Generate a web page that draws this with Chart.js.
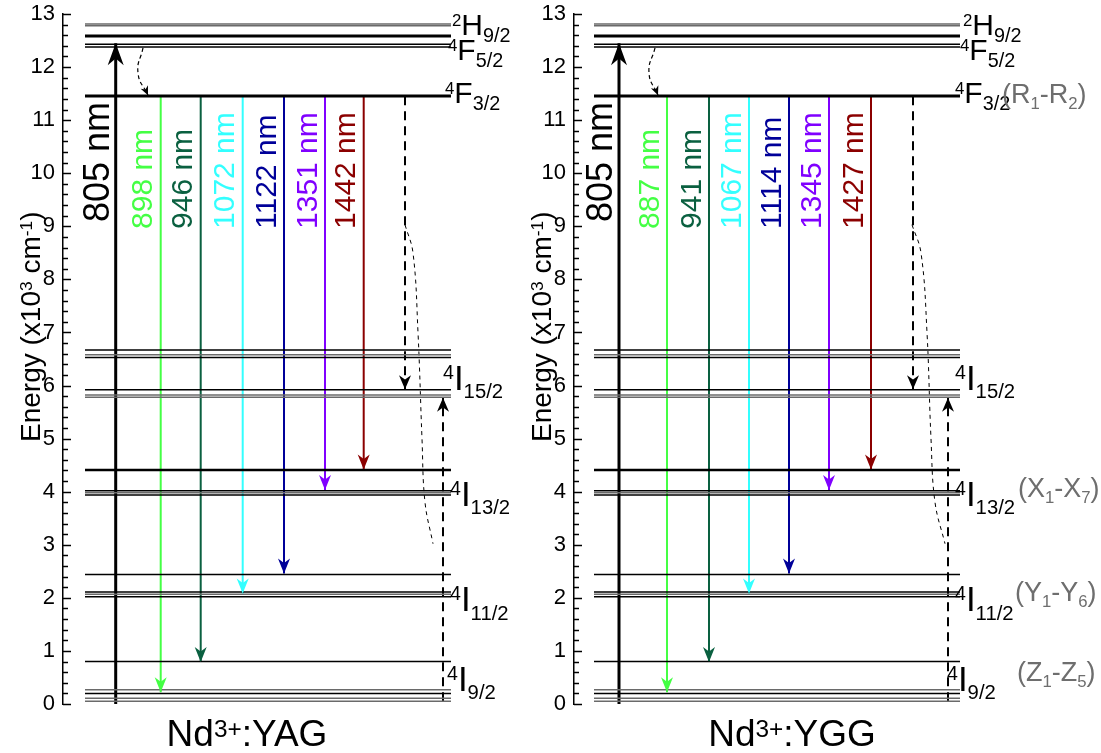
<!DOCTYPE html>
<html>
<head>
<meta charset="utf-8">
<script src="https://cdn.jsdelivr.net/npm/chart.js@4"></script>
<style>
  body { margin: 0; background: #fff; width: 1101px; height: 753px; position: relative; overflow: hidden; }
  canvas { position: absolute; top: 0; }
  #yag { left: 0; }
  #ygg { left: 511px; }
</style>
</head>
<body>
<canvas id="yag" width="560" height="753"></canvas>
<canvas id="ygg" width="590" height="753"></canvas>
<script>
// energy axis (x10^3 cm^-1)
const yMin = 0
const yMax = 13

// Stark sub-levels of Nd3+ drawn as horizontal lines
const levelEnergies = [12.81, 12.78, 12.60, 12.57, 12.43, 12.38, 11.47, 11.44,
  6.67, 6.58, 6.53, 5.92, 5.82, 5.78, 4.41, 4.02, 3.98, 3.94,
  2.44, 2.11, 2.07, 2.02, 0.80, 0.27, 0.20, 0.11, 0.05]
const levelTone = ['g', 'g', 'k', 'k', 'k', 'k', 'k', 'k',
  'k', 'g', 'k', 'k', 'g', 'g', 'K', 'k', 'g', 'k',
  'k', 'k', 'g', 'k', 'k', 'g', 'k', 'g', 'g']

// multiplet names and the energy of their text baseline
const levelSup = ['2', '4', '4', '4', '4', '4', '4']
const levelMain = ['H', 'F', 'F', 'I', 'I', 'I', 'I']
const levelSub = ['9/2', '5/2', '3/2', '15/2', '13/2', '11/2', '9/2']
const levelLabelE = [12.60, 12.13, 11.32, 5.92, 3.73, 1.75, 0.25]

// pump and emission transitions
const pumpFrom = 0.0
const pumpTo = 12.45
const pumpLabel = '805 nm'
const emissionFrom = 11.45
const emissionTo = [0.22, 0.79, 2.08, 2.46, 4.03, 4.42]
const yagWavelengths = ['898 nm', '946 nm', '1072 nm', '1122 nm', '1351 nm', '1442 nm']
const yggWavelengths = ['887 nm', '941 nm', '1067 nm', '1114 nm', '1345 nm', '1427 nm']
const emissionColors = ['#44ff44', '#0a6040', '#33ffff', '#000099', '#8000ff', '#8b0000']

// non radiative steps
const relaxFrom = 11.45
const relaxTo = 5.93
const upFrom = 0.05
const upTo = 5.77
const topCurveE = [12.36, 11.89, 11.47]
const longCurveE = [9.03, 8.5, 7.0, 5.0, 3.8, 3.02]

// grey Stark labels on the YGG panel
const yggNotes = [
  [['(R', 'n'], ['1', 'sub'], ['-R', 'n'], ['2', 'sub'], [')', 'n']],
  [['(X', 'n'], ['1', 'sub'], ['-X', 'n'], ['7', 'sub'], [')', 'n']],
  [['(Y', 'n'], ['1', 'sub'], ['-Y', 'n'], ['6', 'sub'], [')', 'n']],
  [['(Z', 'n'], ['1', 'sub'], ['-Z', 'n'], ['5', 'sub'], [')', 'n']]
]
const yggNotesE = [11.32, 3.90, 1.94, 0.43]

// horizontal layout, in px from the energy axis
const yagLayout = {
  name: 'YAG', lines: yagWavelengths, lineFrom: 22, lineTo: 388,
  pumpX: 52.7, emX: [97.7, 137.7, 179.7, 221, 262, 300.7], relaxX: 342, upX: 380,
  topCurveX: [80, 75, 85], longCurveX: [342, 350, 355, 359, 362, 370],
  labelX: [389, 385, 382, 380, 387, 387, 384], titleX: 184, notesX: []
}
const yggLayout = {
  name: 'YGG', lines: yggWavelengths, lineFrom: 20, lineTo: 386,
  pumpX: 45, emX: [93, 135, 175, 215, 255, 297], relaxX: 339, upX: 374,
  topCurveX: [81, 75, 84], longCurveX: [338, 347, 353, 357, 361, 371],
  labelX: [389, 386, 381, 381, 381, 381, 373], titleX: 218, notesX: [428, 444, 441, 443]
}

const FONT = '"Liberation Sans", Arial, sans-serif'

function richText(ctx, x, y, parts, size, color, rotate, opts) {
  const o = Object.assign({ supScale: 0.6, subScale: 0.6, subDrop: 0.22 }, opts || {})
  ctx.save()
  ctx.translate(x, y)
  if (rotate) ctx.rotate(-Math.PI / 2)
  ctx.fillStyle = color
  ctx.textAlign = 'left'
  ctx.textBaseline = 'alphabetic'
  let cx = 0
  for (const [t, kind] of parts) {
    let s = size
    let dy = 0
    if (kind === 'sup') {
      s = size * o.supScale
      dy = -0.716 * (size - s)
    } else if (kind === 'sub') {
      s = size * o.subScale
      dy = size * o.subDrop
    }
    ctx.font = s + 'px ' + FONT
    ctx.fillText(t, cx, dy)
    cx += ctx.measureText(t).width
  }
  ctx.restore()
  return cx
}

function richWidth(ctx, parts, size, supScale) {
  ctx.save()
  let w = 0
  for (const [t, kind] of parts) {
    const s = kind === 'n' ? size : size * supScale
    ctx.font = s + 'px ' + FONT
    w += ctx.measureText(t).width
  }
  ctx.restore()
  return w
}

function arrowHead(ctx, x, y, dx, dy, len, half, color) {
  const d = Math.hypot(dx, dy)
  const ux = dx / d
  const uy = dy / d
  ctx.save()
  ctx.fillStyle = color
  ctx.beginPath()
  ctx.moveTo(x, y)
  ctx.lineTo(x - ux * len - uy * half, y - uy * len + ux * half)
  ctx.lineTo(x - ux * len * 0.7, y - uy * len * 0.7)
  ctx.lineTo(x - ux * len + uy * half, y - uy * len - ux * half)
  ctx.closePath()
  ctx.fill()
  ctx.restore()
}

function seg(x1, y1, x2, y2) {
  return [{ x: x1, y: y1 }, { x: x2, y: y2 }]
}

function makePanel(canvasId, L, canvasWidth) {
  const datasets = []
  const heads = []

  levelEnergies.forEach((e, i) => {
    const tone = levelTone[i]
    datasets.push({
      data: seg(L.lineFrom, e, L.lineTo, e),
      borderColor: tone === 'g' ? '#6a6a6a' : '#000',
      borderWidth: tone === 'K' ? 2.6 : 1.5
    })
  })

  datasets.push({ data: seg(L.pumpX, pumpFrom, L.pumpX, pumpTo), borderColor: '#000', borderWidth: 3 })
  heads.push({ ds: datasets.length - 1, len: 22, half: 8, color: '#000' })

  emissionTo.forEach((e, i) => {
    datasets.push({ data: seg(L.emX[i], emissionFrom, L.emX[i], e), borderColor: emissionColors[i], borderWidth: 2 })
    heads.push({ ds: datasets.length - 1, len: 15, half: 6, color: emissionColors[i] })
  })

  datasets.push({ data: seg(L.relaxX, relaxFrom, L.relaxX, relaxTo), borderColor: '#000', borderWidth: 2, borderDash: [9, 6] })
  heads.push({ ds: datasets.length - 1, len: 14, half: 6, color: '#000' })
  datasets.push({ data: seg(L.upX, upFrom, L.upX, upTo), borderColor: '#000', borderWidth: 2, borderDash: [9, 6] })
  heads.push({ ds: datasets.length - 1, len: 14, half: 6, color: '#000' })

  datasets.push({
    data: topCurveE.map((e, i) => ({ x: L.topCurveX[i], y: e })),
    borderColor: '#000', borderWidth: 1.2, borderDash: [4, 3], tension: 0.5
  })
  heads.push({ ds: datasets.length - 1, len: 9, half: 4, color: '#000', curve: true })

  datasets.push({
    data: longCurveE.map((e, i) => ({ x: L.longCurveX[i], y: e })),
    borderColor: '#000', borderWidth: 1, borderDash: [4, 4], tension: 0.4
  })

  const decor = {
    id: 'decor',
    afterDatasetsDraw(chart) {
      const ctx = chart.ctx
      const ys = chart.scales.y
      const xs = chart.scales.x
      const ax = chart.chartArea.left

      // inward ticks on the energy axis
      ctx.save()
      ctx.strokeStyle = '#000'
      ctx.lineWidth = 1.5
      for (let k = 0; k <= (yMax - yMin) * 5; k++) {
        const v = yMin + k * 0.2
        const py = Math.round(ys.getPixelForValue(v)) + 0.5
        const len = k % 5 === 0 ? 8 : 5
        ctx.beginPath()
        ctx.moveTo(ax, py)
        ctx.lineTo(ax + len, py)
        ctx.stroke()
      }
      ctx.restore()

      // arrow heads at the end of each transition
      heads.forEach(h => {
        const pts = chart.getDatasetMeta(h.ds).data
        const p = pts[pts.length - 1]
        let dx, dy
        if (h.curve && p.cp1x !== undefined) {
          dx = p.x - p.cp1x
          dy = p.y - p.cp1y
        } else {
          const q = pts[pts.length - 2]
          dx = p.x - q.x
          dy = p.y - q.y
        }
        arrowHead(ctx, p.x, p.y, dx, dy, h.len, h.half, h.color)
      })

      // rotated wavelength labels
      richText(ctx, xs.getPixelForValue(L.pumpX - 20) + 0.358 * 36, ys.getPixelForValue(9.08),
        [[pumpLabel, 'n']], 36, '#000', true)
      L.lines.forEach((t, i) => {
        richText(ctx, xs.getPixelForValue(L.emX[i] - 19) + 0.358 * 30, ys.getPixelForValue(8.95),
          [[t, 'n']], 30, emissionColors[i], true)
      })

      // multiplet names
      levelMain.forEach((m, i) => {
        const size = m === 'I' ? 35 : 30
        richText(ctx, xs.getPixelForValue(L.labelX[i]), ys.getPixelForValue(levelLabelE[i]),
          [[levelSup[i], 'sup'], [m, 'n'], [levelSub[i], 'sub']], size, '#000', false,
          { supScale: 0.56, subScale: m === 'I' ? 0.58 : 0.66, subDrop: 0.24 })
      })

      L.notesX.forEach((nx, i) => {
        richText(ctx, xs.getPixelForValue(nx), ys.getPixelForValue(yggNotesE[i]),
          yggNotes[i], 27, '#6e6e6e', false, { subScale: 0.62, subDrop: 0.22 })
      })

      // axis title
      richText(ctx, 40, 442,
        [['Energy (x10', 'n'], ['3', 'sup'], [' cm', 'n'], ['-1', 'sup'], [')', 'n']],
        28, '#000', true, { supScale: 0.62 })

      // crystal name under the panel
      const parts = [['Nd', 'n'], ['3+', 'sup'], [':' + L.name, 'n']]
      const w = richWidth(ctx, parts, 37, 0.66)
      richText(ctx, xs.getPixelForValue(L.titleX) - w / 2, 746, parts, 37, '#000', false, { supScale: 0.66 })
    }
  }

  return new Chart(document.getElementById(canvasId), {
    type: 'line',
    data: { datasets },
    options: {
      responsive: false,
      animation: false,
      parsing: false,
      layout: { padding: { left: 0, right: canvasWidth - 63 - 400, top: 14, bottom: 49 } },
      elements: { point: { radius: 0 }, line: { fill: false } },
      plugins: { legend: { display: false }, tooltip: { enabled: false } },
      scales: {
        x: { type: 'linear', display: false, min: 0, max: 400 },
        y: {
          type: 'linear',
          min: yMin,
          max: yMax,
          afterFit(scale) {
            scale.width = 63
            scale.paddingTop = 0
            scale.paddingBottom = 0
          },
          grid: { display: false, drawTicks: false },
          border: { display: true, color: '#000', width: 1.5 },
          ticks: {
            stepSize: 1,
            padding: 8,
            color: '#000',
            font: { family: FONT, size: 22 }
          }
        }
      }
    },
    plugins: [decor]
  })
}

makePanel('yag', yagLayout, 560)
makePanel('ygg', yggLayout, 590)
</script>
</body>
</html>
